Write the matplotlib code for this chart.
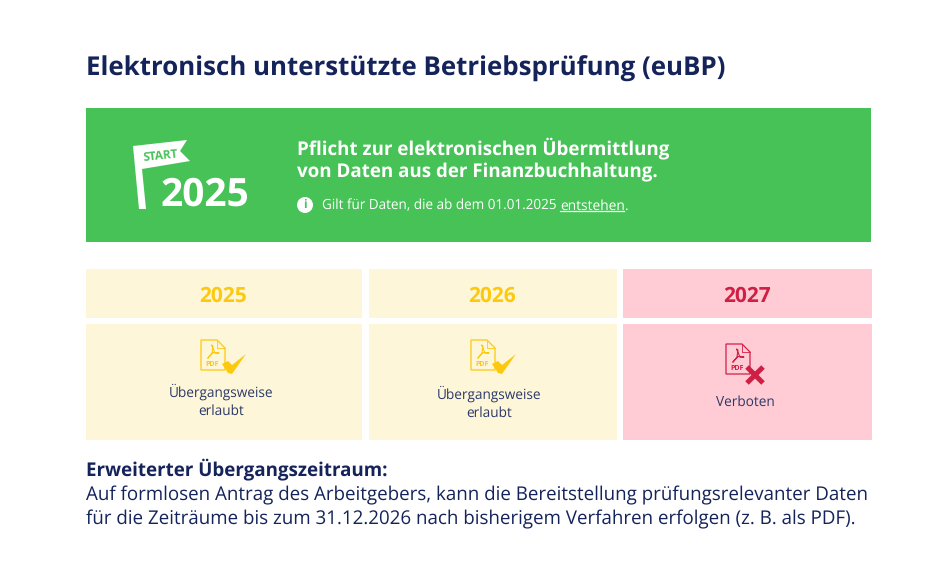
from matplotlib import pyplot as plt
from matplotlib.patches import Rectangle, Polygon, Circle

plt.rcParams["font.family"] = ["Open Sans", "DejaVu Sans"]
plt.rcParams["text.hinting"] = "no_hinting"
plt.rcParams["text.hinting_factor"] = 8

title = "Elektronisch unterstützte Betriebsprüfung (euBP)"
headline = ["Pflicht zur elektronischen Übermittlung", "von Daten aus der Finanzbuchhaltung."]
note_start = "Gilt für Daten, die ab dem 01.01.2025"
note_link = "entstehen"
start_year = "2025"
years = ["2025", "2026", "2027"]
status = ["Übergangsweise\nerlaubt", "Übergangsweise\nerlaubt", "Verboten"]
allowed = [True, True, False]
footer_head = "Erweiterter Übergangszeitraum:"
footer = [
    "Auf formlosen Antrag des Arbeitgebers, kann die Bereitstellung prüfungsrelevanter Daten",
    "für die Zeiträume bis zum 31.12.2026 nach bisherigem Verfahren erfolgen (z. B. als PDF).",
]

NAVY = "#14235a"
GREEN = "#47c257"
CREAM = "#fdf6d9"
YELLOW = "#fdc90e"
PINK = "#ffcbd5"
RED = "#cf1f45"

fig = plt.figure(figsize=(9.5, 5.85), dpi=100, facecolor="white")
ax = fig.add_axes([0, 0, 1, 1])
ax.set(xlim=(0, 950), ylim=(585, 0))
ax.axis("off")


def box(x0, y0, x1, y1, color):
    ax.add_patch(Rectangle((x0, y0), x1 - x0, y1 - y0, fc=color, ec="none"))


def pdf_icon(x, y, color):
    # document outline with folded corner, x/y = top left
    w, h = 24, 30
    ax.add_patch(Polygon([(x, y), (x + w - 8, y), (x + w, y + 8), (x + w, y + h), (x, y + h)],
                         closed=True, fc="none", ec=color, lw=0.9))
    ax.plot([x + w - 8, x + w - 8, x + w], [y, y + 8, y + 8], color=color, lw=0.6)
    # acrobat squiggle
    ax.plot([x + 7, x + 11, x + 12, x + 10.5, x + 14, x + 18, x + 12, x + 7],
            [y + 18, y + 13, y + 6, y + 5, y + 13, y + 13, y + 12.5, y + 18], color=color, lw=0.8)
    ax.text(x + 11.5, y + 24, "PDF", color=color, fontsize=5, fontweight="bold",
            ha="center", va="center")


def draw_check(x, y, color):
    # x, y = left tip of the tick
    ax.add_patch(Polygon([(x, y), (x + 6, y - 3), (x + 10, y + 1), (x + 24, y - 10),
                          (x + 10, y + 10), (x + 6, y + 9)], closed=True, fc=color, ec="none"))


def cross(cx, cy, color):
    ax.plot([cx - 8, cx + 8], [cy - 8, cy + 8], color=color, lw=3.6, solid_capstyle="butt")
    ax.plot([cx - 8, cx + 8], [cy + 8, cy - 8], color=color, lw=3.6, solid_capstyle="butt")


ax.text(86, 68.5, title, color=NAVY, fontsize=18.63, fontweight="bold", va="center", ha="left")

# green banner
box(86, 108, 871, 242, GREEN)
ax.add_patch(Polygon([(133, 146), (187, 140), (180, 151), (190, 161), (142, 169), (146, 209), (139, 209)],
                     closed=True, fc="white", ec="none"))
ax.text(161, 155.5, "START", color=GREEN, fontsize=8.5, fontweight="bold", rotation=6,
        ha="center", va="center")
ax.text(205, 196, start_year, color="white", fontsize=28, fontweight="bold", ha="center", va="center")

ax.text(297, 148.5, headline[0], color="white", fontsize=13.47, fontweight="bold", va="center")
ax.text(297, 172, headline[1], color="white", fontsize=13.47, fontweight="bold", va="center")
ax.add_patch(Circle((305, 205), 8, fc="white", ec="none"))
ax.text(305, 205, "i", color=GREEN, fontsize=8.5, fontweight="bold", ha="center", va="center")
ax.text(322, 206, note_start, color="white", fontsize=9.72, va="center")
ax.text(560, 206, note_link, color="white", fontsize=9.9, va="center")
ax.plot([560, 624], [211, 211], color="white", lw=0.9)
ax.text(624.5, 206, ".", color="white", fontsize=9.72, va="center")

# year columns
columns = [(86, 362), (369, 617), (623, 872)]
year_x = [223.5, 492.5, 747.5]
text_x = [221.5, 489.5, 745]
text_y = [(391.5, 411), (393.5, 413), (402, None)]
doc_xy = [(201, 340), (471, 340), (726, 344)]
for i, (x0, x1) in enumerate(columns):
    bg = CREAM if allowed[i] else PINK
    fg = YELLOW if allowed[i] else RED
    box(x0, 269, x1, 318, bg)
    box(x0, 324, x1, 440, bg)
    ax.text(year_x[i], 296.5, years[i], color=fg, fontsize=15, fontweight="bold", ha="center", va="center")
    dx, dy = doc_xy[i]
    pdf_icon(dx, dy, fg)
    if allowed[i]:
        draw_check(dx + 21, dy + 24, fg)
    else:
        cross(dx + 29, dy + 31, fg)
    lines = status[i].split("\n")
    for line, ty in zip(lines, text_y[i]):
        ax.text(text_x[i], ty, line, color="#2a3867", fontsize=9.85, ha="center", va="center")

ax.text(86, 469.5, footer_head, color=NAVY, fontsize=13.5, fontweight="bold", va="center")
ax.text(86, 495, footer[0], color=NAVY, fontsize=13.5, va="center")
ax.text(86, 519, footer[1], color=NAVY, fontsize=13.5, va="center")

fig.savefig("out.png", dpi=100)
